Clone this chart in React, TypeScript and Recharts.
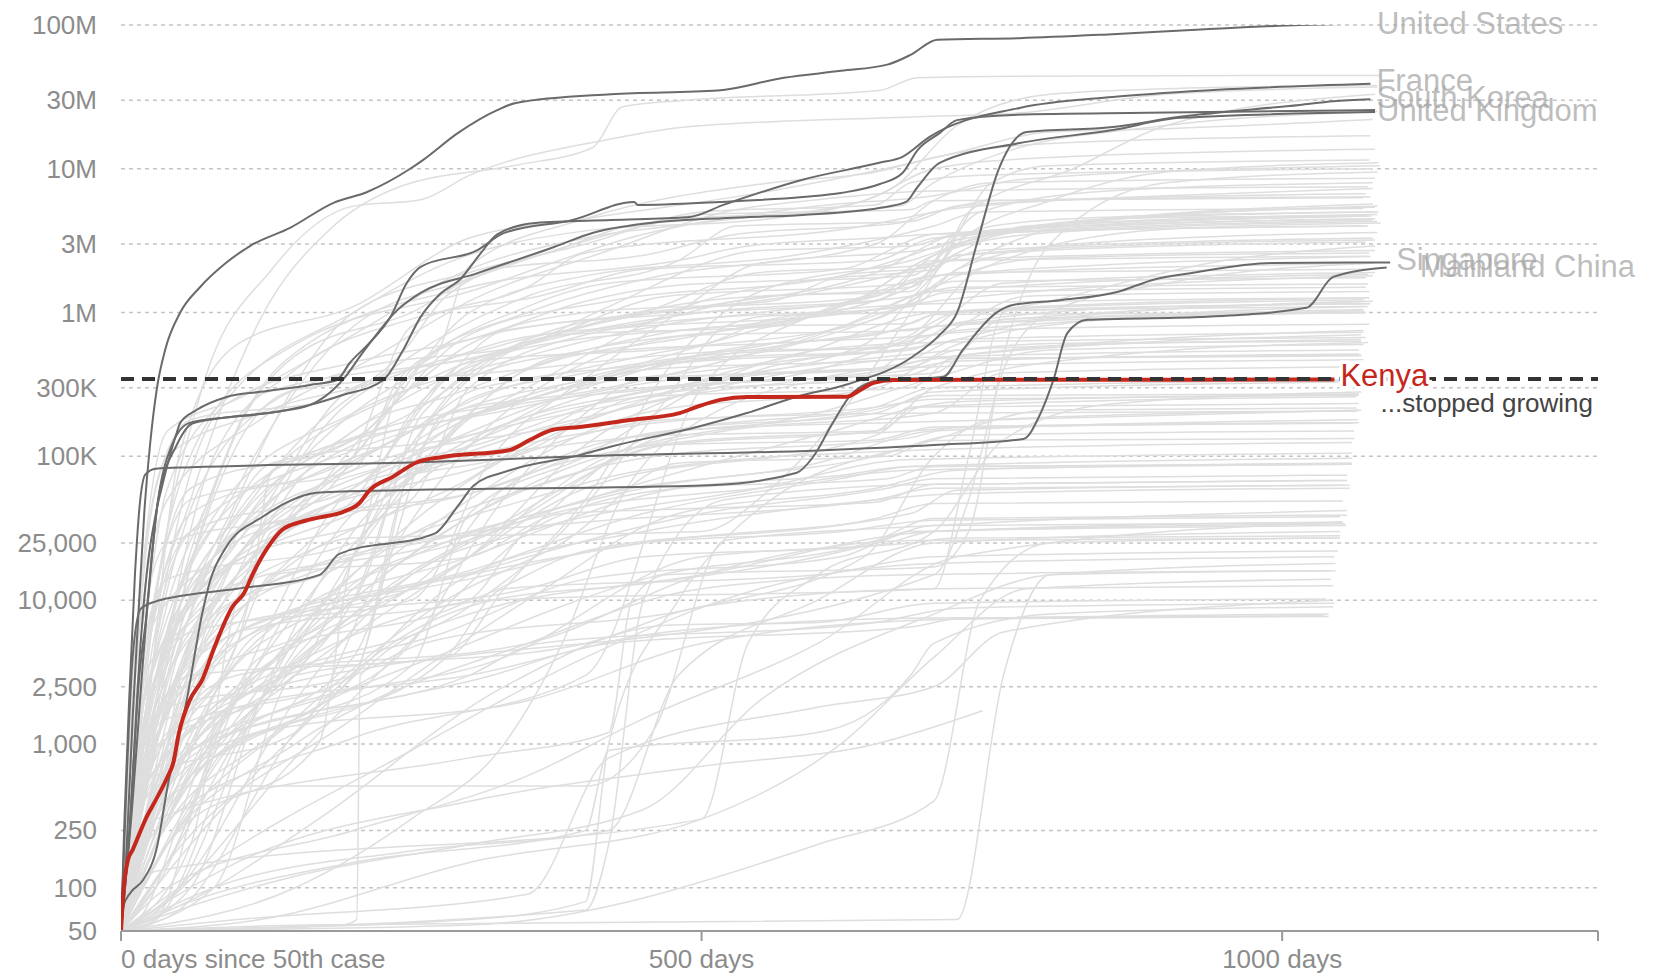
import React from "react";
import { LineChart, Line, XAxis, YAxis, CartesianGrid, ReferenceLine, ReferenceDot } from "recharts";

type Pair = [number, number];

const xTicks = [0, 500, 1000, 1272];
const yTicks = [50, 100, 250, 1000, 2500, 10000, 25000, 100000, 300000, 1000000, 3000000, 10000000, 30000000, 100000000];
const kenyaPlateau = 345000;

// highlighted countries: [days since 50th case, cumulative cases]
const unitedStates: Pair[] = [[0,50],[5,200],[10,1500],[15,8000],[20,40000],[25,120000],[31,300000],[38,550000],[51,1000000],[68,1500000],[90,2200000],[111,2900000],[146,3900000],[183,5800000],[212,6900000],[249,10000000],[260,11500000],[290,17700000],[324,25600000],[340,28700000],[422,33000000],[514,35000000],[571,43000000],[620,48000000],[660,53000000],[680,62000000],[703,79000000],[774,81000000],[850,86000000],[930,93000000],[1015,100000000],[1080,103000000]];
const france: Pair[] = [[0,50],[8,300],[15,2500],[22,8000],[32,50000],[48,120000],[62,170000],[134,204000],[163,228000],[191,267000],[226,340000],[243,550000],[258,930000],[275,1350000],[292,1700000],[310,2600000],[324,3500000],[357,4200000],[422,4400000],[488,4600000],[521,5700000],[587,8400000],[653,11000000],[673,12100000],[696,16600000],[774,26500000],[854,31600000],[941,35300000],[1076,39000000]];
const southKorea: Pair[] = [[0,50],[5,600],[10,4000],[17,8700],[30,9800],[46,10500],[100,12000],[171,15000],[188,21000],[270,29000],[290,45000],[304,63000],[335,80000],[395,102000],[424,118000],[496,160000],[539,200000],[582,260000],[625,316000],[682,495000],[705,700000],[720,1000000],[737,3000000],[756,10000000],[780,18000000],[854,19500000],[912,23000000],[1015,27800000],[1044,29500000],[1076,30500000]];
const unitedKingdom: Pair[] = [[0,50],[8,300],[15,3000],[22,15000],[30,40000],[36,65000],[48,146000],[51,171000],[65,210000],[91,259000],[120,281000],[163,314000],[186,340000],[197,446000],[214,615000],[232,930000],[246,1600000],[258,2080000],[307,2720000],[330,3580000],[389,4410000],[442,5880000],[445,5600000],[515,5880000],[587,6370000],[620,6790000],[653,7800000],[673,9350000],[686,13500000],[705,17700000],[720,21800000],[768,23700000],[884,24500000],[1080,25600000]];
const otherEurope: Pair[] = [[0,50],[10,400],[18,3000],[25,15000],[32,50000],[42,110000],[59,171000],[94,188000],[134,204000],[163,228000],[174,255000],[191,340000],[208,524000],[238,1040000],[258,1370000],[307,1880000],[373,2860000],[406,3580000],[456,4200000],[521,4550000],[587,4780000],[653,5340000],[676,5880000],[686,7470000],[705,11000000],[774,15100000],[854,18600000],[912,22600000],[1080,24800000]];
const singapore: Pair[] = [[0,50],[2,74],[8,92],[19,113],[31,192],[40,500],[57,2100],[70,8100],[77,13800],[90,23000],[122,38000],[171,56000],[238,58000],[507,63000],[582,77000],[596,99000],[613,171000],[630,276000],[654,340000],[708,357000],[725,550000],[754,1000000],[768,1130000],[809,1220000],[858,1390000],[890,1700000],[921,1880000],[992,2210000],[1093,2230000]];
const mainlandChina: Pair[] = [[0,50],[3,300],[7,2000],[12,15000],[16,45000],[21,75000],[30,82000],[60,84000],[258,91000],[395,100000],[600,110000],[700,120000],[777,132000],[792,200000],[803,340000],[815,720000],[832,890000],[929,930000],[1021,1080000],[1044,1770000],[1090,2060000]];
const kenya: Pair[] = [[0,50],[2,92],[6,156],[10,183],[22,310],[30,408],[40,589],[45,738],[50,1200],[59,2000],[70,2800],[80,4600],[96,9000],[106,11200],[114,15500],[126,23000],[139,31000],[155,35000],[170,37500],[191,41000],[205,47000],[214,58000],[234,72000],[255,91000],[277,99000],[335,111000],[352,130000],[372,153000],[395,160000],[438,179000],[481,200000],[496,221000],[516,247000],[539,259000],[625,260000],[634,281000],[648,324000],[665,340000],[809,341000],[1045,342000]];

// every other country, drawn in light grey
const background: Pair[][] = [
  [[0,50],[15,2e3],[40,6e4],[100,3e5],[200,1e6],[280,2.2e6],[400,3.7e6],[560,4.5e6],[660,7e6],[720,2e7],[800,3.3e7],[900,3.6e7],[1082,3.8e7]],
  [[0,50],[20,3e3],[60,5e4],[120,9e5],[180,3.8e6],[240,7.5e6],[340,1.06e7],[406,1.4e7],[432,2.7e7],[488,3e7],[653,3.5e7],[686,4.3e7],[774,4.4e7],[1085,4.46e7]],
  [[0,50],[25,5e3],[70,3e5],[130,2e6],[200,5.5e6],[258,6.1e6],[300,9e6],[420,1.6e7],[488,1.96e7],[686,2.3e7],[774,2.45e7],[900,3.3e7],[1082,3.7e7]],
  [[0,50],[30,400],[60,5e3],[200,6e4],[350,3e5],[500,1.2e6],[600,1.7e6],[700,2e6],[730,5e6],[820,1e7],[900,2e7],[1080,3.3e7]],
  [[0,50],[10,1.5e3],[30,6e4],[60,1.8e5],[180,2.5e5],[240,5e5],[280,1.3e6],[380,2.8e6],[450,4.2e6],[670,5.5e6],[700,8e6],[760,1.3e7],[900,2e7],[1082,2.5e7]],
  [[0,50],[20,1e3],[50,1e5],[100,6e5],[200,1.1e6],[300,3.3e6],[400,4.5e6],[550,6.8e6],[670,1.05e7],[720,1.3e7],[800,1.8e7],[900,1.9e7],[1078,2.2e7]],
  [[0,50],[10,3e3],[40,1e5],[120,2e5],[270,5e5],[300,2.1e6],[400,4.5e6],[560,8e6],[650,9.5e6],[700,1.2e7],[800,1.5e7],[1076,1.7e7]],
  [[0,50],[10,2e3],[40,1.5e5],[100,2.5e5],[200,7e5],[300,2e6],[400,3.3e6],[510,4.3e6],[640,6e6],[700,1e7],[800,1.2e7],[1080,1.37e7]],
  [[0,50],[30,250],[200,1.1e3],[400,3e3],[500,3e5],[600,1e6],[700,2e6],[750,8e6],[800,1.05e7],[1075,1.15e7]],
  [[0,50],[20,3e3],[60,7e3],[150,2e4],[200,2.7e4],[500,3e4],[560,6e4],[620,2e5],[680,1e6],[720,3e6],[800,6e6],[900,9.5e6],[1083,1.1e7]],
  [[0,50],[40,3e3],[100,5e4],[200,1e6],[300,1.9e6],[400,3e6],[500,5e6],[650,5.6e6],[680,8e6],[740,9e6],[1078,1e7]],
  [[0,50],[15,1.5e3],[60,4e4],[200,1e5],[250,4e5],[350,1e6],[450,1.7e6],[650,3e6],[700,6e6],[750,8e6],[1080,8.6e6]],
  [[0,50],[10,2e3],[40,5e4],[120,1.8e5],[220,5e5],[300,1.2e6],[420,2.7e6],[520,5e6],[600,6.1e6],[700,7e6],[1074,7.5e6]],
  [[0,50],[30,2e3],[90,1e5],[150,5e5],[250,1e6],[320,2e6],[450,2.5e6],[530,3.5e6],[670,4.2e6],[700,5e6],[760,5.7e6],[900,6.5e6],[1078,7.3e6]],
  [[0,50],[30,3e3],[120,6e4],[250,5e5],[350,1.3e6],[480,2.3e6],[530,4e6],[680,4.3e6],[720,5.5e6],[800,6e6],[1072,6.7e6]],
  [[0,50],[30,3e3],[100,2e4],[200,1e5],[250,8e5],[350,1.5e6],[400,2.6e6],[640,4e6],[700,5e6],[750,6e6],[1076,6.4e6]],
  [[0,50],[30,3e3],[100,6e4],[200,8e5],[300,1.7e6],[450,4e6],[500,4.8e6],[680,5.2e6],[700,6e6],[1070,6.3e6]],
  [[0,50],[30,5e3],[90,2.3e5],[200,4.5e5],[300,6.5e5],[400,1.2e6],[480,1.55e6],[680,1.8e6],[720,3e6],[850,4.5e6],[1080,5e6]],
  [[0,50],[20,1.5e3],[60,6e3],[250,1e4],[320,1e5],[400,3.5e5],[480,1e6],[550,2.2e6],[700,2.8e6],[750,4e6],[850,4.6e6],[1083,5e6]],
  [[0,50],[20,1e3],[60,3e3],[280,4e3],[330,1.2e4],[400,5e4],[480,5e5],[550,1.4e6],[680,2.3e6],[750,3.5e6],[900,4.6e6],[1077,4.7e6]],
  [[0,50],[20,3e3],[60,6e4],[200,1.3e5],[300,7e5],[420,1.2e6],[620,1.8e6],[680,2.5e6],[720,3.2e6],[850,4e6],[1080,4.5e6]],
  [[0,50],[30,3e3],[120,4e4],[200,3e5],[350,6e5],[420,1.1e6],[550,2.7e6],[680,2.9e6],[720,3.5e6],[1072,4e6]],
  [[0,50],[30,1.5e3],[100,1.5e5],[160,6e5],[300,1.5e6],[480,2.3e6],[540,2.9e6],[650,3.3e6],[700,3.5e6],[1074,4e6]],
  [[0,50],[30,3e3],[120,2e4],[250,3e5],[300,6e5],[400,1e6],[560,1.2e6],[620,1.8e6],[700,2.1e6],[740,2.7e6],[1078,3.3e6]],
  [[0,50],[10,1e3],[60,1e4],[250,7e4],[310,2e5],[500,3.3e5],[640,6e5],[690,1.5e6],[720,2.5e6],[1072,3.1e6]],
  [[0,50],[20,2e3],[100,5e4],[250,2e5],[350,6.5e5],[450,1e6],[650,1.3e6],[700,2.3e6],[1080,2.7e6]],
  [[0,50],[20,1.5e3],[80,1.5e4],[250,5e4],[300,3e5],[400,7e5],[550,1e6],[650,1.3e6],[700,1.8e6],[1076,2.45e6]],
  [[0,50],[20,200],[50,1e3],[160,4e3],[320,1e4],[700,1.2e4],[730,1e5],[760,1e6],[800,1.2e6],[950,2.3e6],[1080,2.9e6]],
  [[0,50],[10,700],[40,1.5e3],[700,1.5e4],[730,5e4],[760,4e5],[800,1e6],[900,1.6e6],[1076,2.2e6]],
  [[0,50],[30,5e3],[100,1.5e5],[200,4e5],[350,6e5],[470,1.3e6],[680,1.6e6],[720,1.9e6],[1072,2e6]],
  [[0,50],[40,2e3],[200,1e4],[260,2e5],[380,7e5],[560,8e5],[640,1.3e6],[700,1.8e6],[1078,2.2e6]],
  [[0,50],[40,1.2e3],[200,3e3],[240,5e4],[300,2.5e5],[400,3.8e5],[620,8e5],[700,1.4e6],[1074,1.85e6]],
  [[0,50],[40,1.5e3],[120,5e4],[200,1.3e5],[350,2.5e5],[500,5e5],[680,6e5],[720,8.5e5],[900,1.1e6],[1076,1.15e6]],
  [[0,50],[20,2e3],[60,3e4],[200,1.1e5],[350,2.5e5],[480,4.7e5],[670,5.5e5],[700,8e5],[1070,1.05e6]],
  [[0,50],[20,500],[100,2e3],[300,9e3],[380,3e4],[470,2.5e5],[520,8e5],[560,9.5e5],[1074,1.1e6]],
  [[0,50],[30,1e3],[110,1e4],[130,8e4],[330,2.2e5],[470,5e5],[600,9.5e5],[680,1.15e6],[710,1.38e6],[1072,1.5e6]],
  [[0,50],[60,200],[100,1e4],[200,1.5e5],[280,2.6e5],[420,6e5],[520,8e5],[680,8.4e5],[700,9.7e5],[1068,1e6]],
  [[0,50],[20,1e3],[100,8e3],[200,5e4],[300,4.5e5],[500,6e5],[560,9e5],[700,1.15e6],[1075,1.27e6]],
  [[0,50],[30,450],[120,2e3],[200,2e4],[300,2e5],[380,5e5],[650,7e5],[710,1e6],[1070,1.23e6]],
  [[0,50],[30,1.5e3],[100,1.2e5],[150,2.9e5],[300,3.7e5],[550,5.5e5],[650,5.6e5],[700,7e5],[800,7.8e5],[1075,8.3e5]],
  [[0,50],[30,600],[150,1.2e3],[230,2e4],[330,2e5],[500,7e5],[680,7.5e5],[720,1e6],[1072,1.15e6]],
  [[0,50],[40,150],[120,5e3],[200,6e4],[320,1.3e5],[450,2.8e5],[660,4e5],[700,4.8e5],[1068,5e5]],
  [[0,50],[20,150],[100,1.5e3],[200,1.3e4],[320,3e4],[480,1.5e5],[650,2.2e5],[700,3e5],[1070,3.4e5]],
  [[0,50],[15,60],[70,800],[200,1e4],[300,3.8e4],[460,1e5],[680,1.35e5],[720,1.6e5],[1060,1.7e5]],
  [[0,50],[30,1e3],[100,3e4],[300,5.5e4],[380,9e4],[500,1.3e5],[680,1.5e5],[720,1.58e5],[1066,1.71e5]],
  [[0,50],[40,200],[150,1.5e3],[280,1e4],[380,2.5e4],[480,9e4],[660,1e5],[700,1.29e5],[1062,1.33e5]],
  [[0,50],[40,150],[120,2e3],[280,2e4],[330,6e4],[460,1.4e5],[650,1.5e5],[690,2.2e5],[1066,2.33e5]],
  [[0,50],[50,100],[120,2e3],[180,1.1e4],[400,8e4],[470,1.2e5],[650,1.3e5],[700,1.6e5],[1062,1.71e5]],
  [[0,50],[30,400],[100,5e3],[300,2e4],[480,6e4],[620,7.4e4],[680,8.5e4],[1060,8.8e4]],
  [[0,50],[20,130],[100,5e3],[130,1.5e4],[300,2e4],[380,4e4],[480,4.3e4],[650,4.8e4],[700,6.4e4],[1052,6.8e4]],
  [[0,50],[30,300],[100,2e3],[280,6e3],[400,1.4e4],[620,2e4],[680,3e4],[1055,3.3e4]],
  [[0,50],[20,200],[60,600],[280,4e3],[330,1.2e4],[600,1.5e4],[700,2e4],[1048,2.2e4]],
  [[0,50],[20,300],[60,900],[300,3e3],[360,5e3],[650,7e3],[720,8.8e3],[1045,9.5e3]],
  [[0,50],[30,60],[80,800],[320,3e3],[420,5e3],[680,6.5e3],[720,7.4e3],[1040,7.7e3]],
  [[0,50],[30,200],[100,1.8e3],[300,3e3],[470,6e3],[690,7.5e3],[1036,7.8e3]],
  [[0,50],[70,90],[170,300],[330,2.5e3],[470,6.7e3],[600,7e3],[700,9.5e3],[1038,1.02e4]],
  [[0,50],[300,60],[400,80],[420,1e3],[480,1e4],[560,5e4],[700,1.3e5],[800,2.1e5],[1064,2.17e5]],
  [[0,50],[150,100],[250,300],[330,1e3],[380,5e3],[430,5e4],[500,1.8e5],[620,3.5e5],[700,3.8e5],[760,9e5],[1072,1e6]],
  [[0,50],[30,300],[300,800],[420,1.2e3],[440,1e4],[470,1.5e4],[700,1.7e4],[730,3e4],[760,5e5],[800,3e6],[900,8e6],[1082,9.5e6]],
  [[0,50],[30,130],[500,300],[540,5e3],[600,1.5e4],[700,3e4],[760,1.3e5],[850,2.3e5],[1068,2.8e5]],
  [[0,50],[400,70],[420,200],[450,1e4],[520,5e4],[700,6.4e4],[1056,6.8e4]],
  [[0,50],[160,55],[720,60],[760,3e3],[800,1.5e4],[1046,1.6e4]],
  [[0,50],[60,80],[200,150],[400,250],[420,900],[600,1.2e3],[680,3e3],[700,5e3],[800,8e3],[1044,9e3]],
  [[0,50],[100,150],[300,400],[500,700],[650,1e3],[742,1.7e3]],
  [[0,50],[30,300],[60,509],[400,509],[460,1.3e3],[520,2.6e4],[700,3.3e4],[1056,4.2e4]],
  [[0,50],[30,600],[100,5e3],[130,3e4],[300,8e4],[470,1.8e5],[700,2e5],[1064,2.06e5]],
  [[0,50],[20,500],[80,2e4],[150,3.6e4],[300,5.5e4],[470,1.5e5],[700,1.75e5],[1068,2.1e5]],
  [[0,50],[20,1e3],[100,1.5e4],[250,7.5e4],[450,1.4e5],[660,2.2e5],[700,2.65e5],[1066,2.71e5]],
  [[0,50],[30,500],[100,2e4],[250,1e5],[450,2.5e5],[550,3.7e5],[700,4.2e5],[1070,4.7e5]],
  [[0,50],[40,700],[120,2e4],[250,1.5e5],[450,4e5],[550,5.6e5],[700,8e5],[1078,1.2e6]],
  [[0,50],[40,500],[200,3e3],[260,1.5e5],[380,7e5],[650,1.05e6],[720,1.65e6],[1072,1.75e6]],
  [[0,50],[40,600],[200,4e3],[280,2e5],[400,2.8e5],[580,6.2e5],[700,1.2e6],[1078,1.8e6]],
  [[0,50],[20,800],[150,3e3],[250,1.2e5],[350,2.5e5],[580,5e5],[700,1e6],[1075,1.27e6]],
  [[0,50],[20,2e3],[100,3e4],[250,1.5e5],[310,3e5],[500,4.6e5],[680,5.5e5],[720,7.5e5],[1070,1.03e6]],
  [[0,50],[30,60],[100,1e3],[200,8e3],[330,3.5e4],[470,1.2e5],[650,1.5e5],[680,2.2e5],[1064,2.6e5]],
  [[0,50],[30,70],[150,800],[220,3e3],[350,3e4],[470,1.5e5],[650,2e5],[700,2.8e5],[1068,3.3e5]],
  [[0,50],[30,500],[100,6e3],[300,1e4],[400,2.2e4],[650,3.7e4],[700,4.7e4],[1052,4.9e4]],
  [[0,50],[40,700],[100,7e3],[350,1.2e4],[450,2e4],[650,2.4e4],[700,3e4],[1054,3.4e4]],
  [[0,50],[40,200],[120,1.5e3],[330,4e3],[500,2e4],[680,2.5e4],[720,2.7e4],[1050,2.8e4]],
  [[0,50],[30,200],[120,1e3],[300,5e3],[450,1.4e4],[650,2.6e4],[700,3.7e4],[1056,3.9e4]],
  [[0,50],[40,300],[120,1.2e3],[350,2e3],[500,5e3],[700,7.3e3],[1040,8e3]],
  [[0,50],[80,100],[150,3e3],[400,5e3],[500,9e3],[700,1.2e4],[1044,1.26e4]],
  [[0,50],[30,800],[100,3e3],[350,5e3],[500,1.5e4],[680,2.6e4],[1050,2.7e4]],
  [[0,50],[10,1e3],[40,1.8e3],[200,3e3],[260,5e3],[500,9e3],[640,2e4],[700,1e5],[750,1.8e5],[1066,2.08e5]],
  [[0,50],[20,500],[300,2e4],[400,6e4],[650,1.4e5],[700,3e5],[850,5e5],[1074,6.2e5]],
  [[0,50],[60,700],[250,5e3],[320,4e4],[400,2e5],[450,3.5e5],[650,4e5],[700,8e5],[1072,1e6]],
  [[0,50],[40,300],[150,8e3],[250,6e4],[350,2e5],[450,4e5],[680,4.8e5],[720,6.5e5],[1070,7.3e5]],
  [[0,50],[60,100],[120,2e3],[200,3e4],[300,1.2e5],[460,2.7e5],[680,3.7e5],[720,4.8e5],[1068,5.07e5]],
  [[0,50],[40,200],[170,1e3],[200,2e4],[300,1.3e5],[470,3e5],[700,5.3e5],[800,6.1e5],[1068,6.33e5]],
  [[0,50],[50,700],[250,3.5e3],[300,4e4],[400,1e5],[500,3e5],[600,5.5e5],[700,6.2e5],[1072,6.7e5]],
  [[0,50],[20,1.5e3],[80,6e4],[120,2.7e5],[300,4.8e5],[420,8e5],[500,1e6],[680,1.3e6],[720,1.5e6],[1074,1.58e6]],
  [[0,50],[20,500],[80,2e4],[130,9e4],[300,1.4e5],[420,2.8e5],[670,3.9e5],[720,4.6e5],[1066,5.16e5]],
  [[0,50],[20,400],[80,1.2e4],[150,4e4],[300,1e5],[450,1.67e5],[650,2.2e5],[700,2.5e5],[1066,2.66e5]],
  [[0,50],[20,800],[80,6e3],[200,2e4],[350,5e4],[450,8e4],[680,1.1e5],[1060,1.25e5]],
  [[0,50],[30,300],[100,6e3],[300,1.6e4],[450,4e4],[620,7e4],[680,8.5e4],[1060,9.7e4]],
  [[0,50],[30,500],[100,1e4],[280,2.8e4],[400,3.5e4],[650,5e4],[700,6e4],[1054,6.3e4]],
  [[0,50],[50,100],[150,2e3],[250,1.5e4],[350,3e4],[550,6e4],[680,9.5e4],[1060,1.05e5]],
  [[0,50],[30,1e3],[100,1.3e4],[250,2.2e4],[400,4.5e4],[550,6e4],[680,8e4],[1058,8.8e4]],
  [[0,50],[30,1.5e3],[100,6e3],[300,1.4e4],[450,2.5e4],[620,3e4],[700,3.6e4],[1050,3.8e4]],
  [[0,50],[30,100],[120,4e3],[300,1e4],[350,3e4],[480,6e4],[660,7e4],[700,8.5e4],[1056,8.8e4]],
  [[0,50],[30,300],[120,5e3],[320,1.7e4],[500,4e4],[660,6e4],[700,7e4],[1056,7.4e4]],
  [[0,50],[50,70],[150,1.2e3],[320,1e4],[450,1.3e4],[650,2.5e4],[700,3.3e4],[1050,3.45e4]],
  [[0,50],[60,1e3],[120,6e3],[300,1.5e4],[450,2.5e4],[680,4e4],[720,5.8e4],[1058,6.3e4]],
  [[0,50],[190,55],[203,60],[206,3e3],[300,8e3],[500,1.5e4],[700,3e4],[1052,3.5e4]],
  [[0,50],[100,60],[350,90],[420,800],[600,1.8e3],[700,2.5e3],[760,6e3],[1042,1e4]],
  [[0,50],[300,55],[600,200],[700,400],[740,1e4],[800,2.5e4],[1048,2.7e4]],
  [[0,50],[20,500],[200,1e4],[250,1e5],[400,3.5e5],[580,6e5],[680,1.2e6],[720,2e6],[850,4.5e6],[1080,5.4e6]],
  [[0,50],[10,1e3],[60,3e4],[200,6e4],[280,3.5e5],[330,7.5e5],[500,1e6],[650,1.2e6],[700,2.5e6],[800,4e6],[1082,5.5e6]],
  [[0,50],[10,1.5e3],[40,1.4e4],[200,2.5e4],[250,1.2e5],[300,3.5e5],[400,5.5e5],[620,1.1e6],[700,2.5e6],[800,4e6],[1078,5.7e6]],
  [[0,50],[20,4e3],[60,5e4],[200,8e4],[240,3.5e5],[300,6.5e5],[500,1.1e6],[650,1.9e6],[720,3.5e6],[800,4e6],[1074,4.7e6]],
  [[0,50],[20,1e3],[80,8e3],[200,2e4],[240,3e5],[350,1.1e6],[420,1.6e6],[620,2e6],[700,3.5e6],[1076,4.5e6]],
  [[0,50],[20,600],[80,1e5],[150,4e5],[250,9e5],[360,1.3e6],[450,2e6],[650,2.3e6],[700,3.3e6],[1078,4.4e6]],
  [[0,50],[10,2e3],[40,2.5e4],[200,4.5e4],[250,2e5],[320,5e5],[620,1.1e6],[700,2.5e6],[800,3.6e6],[1082,4.3e6]],
  [[0,50],[20,5e3],[80,2e4],[200,2e5],[320,6e5],[450,8.5e5],[560,1.3e6],[680,1.4e6],[720,3.5e6],[1074,4.7e6]],
  [[0,50],[30,2e3],[100,2e4],[200,1e5],[300,1e6],[400,1.8e6],[580,2.5e6],[700,4e6],[740,5e6],[1070,5.3e6]],
  [[0,50],[30,600],[100,1.5e4],[200,2.5e5],[330,6e5],[450,1e6],[550,1.9e6],[680,2.1e6],[720,2.3e6],[1074,2.46e6]],
  [[0,50],[30,400],[100,2e4],[200,8e4],[400,1.8e5],[530,4e5],[700,6e5],[800,9e5],[1072,1.2e6]],
  [[0,50],[20,1.5e3],[100,2.5e4],[200,1.2e5],[320,2e5],[500,3.6e5],[680,4.2e5],[720,5.5e5],[1068,6.5e5]],
  [[0,50],[30,200],[100,2e3],[200,4e4],[330,1.3e5],[450,2.3e5],[600,4.1e5],[700,4.9e5],[1066,5.5e5]],
  [[0,50],[15,300],[100,1.5e4],[200,5.5e4],[350,1.1e5],[450,2.6e5],[680,3e5],[720,5e5],[1068,7e5]],
  [[0,50],[50,70],[150,120],[300,200],[450,350],[550,2e3],[700,8e3],[800,1.5e4],[1046,1.8e4]],
  [[0,50],[80,100],[250,180],[420,250],[480,3e3],[600,1e4],[700,2.5e4],[1050,3e4]],
  [[0,50],[40,100],[200,250],[350,600],[450,1.5e3],[600,5e3],[720,2e4],[1052,3.5e4]],
  [[0,50],[120,60],[300,150],[500,300],[620,1e3],[700,4e3],[780,1.2e4],[1042,1.4e4]],
  [[0,50],[20,1e3],[80,2e4],[200,1.5e5],[350,6e5],[500,1.2e6],[680,1.5e6],[720,2.5e6],[900,3e6],[1080,3.2e6]],
  [[0,50],[25,2e3],[100,4e4],[250,3e5],[400,8e5],[600,1.4e6],[700,2.2e6],[780,4e6],[1082,4.8e6]],
  [[0,50],[15,800],[60,1e4],[250,8e4],[350,4e5],[500,7e5],[680,1.5e6],[740,5e6],[850,7e6],[1078,8e6]],
  [[0,50],[30,1e3],[120,2e4],[280,2e5],[450,5e5],[650,9e5],[720,1.8e6],[800,2.4e6],[1075,2.6e6]],
  [[0,50],[20,600],[100,8e3],[300,7e4],[420,2.5e5],[600,4e5],[700,8e5],[760,1.6e6],[1080,1.9e6]],
  [[0,50],[40,500],[150,5e3],[300,5e4],[450,2e5],[650,3e5],[720,6e5],[850,9e5],[1070,1.1e6]],
  [[0,50],[30,2e3],[100,3e4],[250,1e5],[400,3e5],[550,6e5],[700,7e5],[780,1.3e6],[1075,1.4e6]],
  [[0,50],[20,400],[150,3e3],[300,2e4],[420,1e5],[600,2e5],[700,3.5e5],[800,5.5e5],[1070,6e5]],
  [[0,50],[50,300],[150,4e3],[280,3e4],[380,8e4],[520,1.5e5],[700,2e5],[760,3.8e5],[1068,4.2e5]],
  [[0,50],[30,200],[120,2e3],[250,1.5e4],[400,5e4],[600,9e4],[700,1.5e5],[1065,1.8e5]],
  [[0,50],[40,150],[200,1.5e3],[350,1e4],[480,4e4],[650,6e4],[720,8e4],[1060,9e4]],
  [[0,50],[25,700],[100,1e4],[300,3e4],[450,6e4],[650,1e5],[720,1.4e5],[1062,1.5e5]],
  [[0,50],[20,1e3],[90,5e4],[200,2e5],[350,5e5],[500,9e5],[680,1.1e6],[720,2e6],[820,3e6],[1082,3.6e6]],
  [[0,50],[15,500],[80,4e3],[300,2e4],[400,1.2e5],[550,4e5],[680,7e5],[740,2e6],[900,3.8e6],[1085,4.2e6]],
  [[0,50],[30,300],[120,3e3],[260,4e4],[420,2e5],[600,3.5e5],[720,5e5],[1070,7.5e5]],
  [[0,50],[20,3e3],[70,1.5e5],[150,6e5],[300,1.4e6],[450,3.5e6],[600,5.5e6],[700,6.5e6],[780,8.5e6],[1084,1.05e7]],
  [[0,50],[60,200],[180,2e3],[300,1.5e4],[450,3e4],[600,4.5e4],[720,5.5e4],[1058,6e4]],
  [[0,50],[80,150],[250,900],[400,4e3],[550,1.2e4],[700,1.8e4],[1045,2e4]],
  [[0,50],[30,150],[150,1e3],[350,5e3],[500,1.2e4],[680,1.5e4],[1040,1.6e4]],
  [[0,50],[20,300],[90,3e3],[250,2e4],[400,5e4],[600,1.4e5],[720,2.4e5],[1066,2.7e5]],
];

const FONT = '"Liberation Sans", Arial, Helvetica, sans-serif';

const toPoints = (pairs: Pair[]) => pairs.map(([day, cases]) => ({ day, cases }));
const kenyaLast = kenya[kenya.length - 1];

const withCommas = (v: number) => String(v).replace(/\B(?=(\d{3})+(?!\d))/g, ",");
const formatCases = (v: number) => {
  if (v >= 1e6) return `${v / 1e6}M`;
  if (v >= 1e5) return `${v / 1e3}K`;
  return withCommas(v);
};

const YTick = (props: any) => (
  <text x={89} y={props.y} dy={9} textAnchor="end" fill="#8c8c8c" fontSize={26} fontFamily={FONT}>
    {formatCases(props.payload.value)}
  </text>
);

const XTick = (props: any) => {
  const v = props.payload.value;
  if (v === 1272) return <g />;
  const text = v === 0 ? "0 days since 50th case" : `${v} days`;
  return (
    <text x={props.x} y={props.y} dy={25} textAnchor={v === 0 ? "start" : "middle"} fill="#8c8c8c" fontSize={26} fontFamily={FONT}>
      {text}
    </text>
  );
};

const highlighted = [
  { name: "United States", points: unitedStates, dx: 2, dy: 0 },
  { name: "France", points: france, dx: 6, dy: -4 },
  { name: "South Korea", points: southKorea, dx: 6, dy: -2 },
  { name: "United Kingdom", points: unitedKingdom, dx: 2, dy: 0 },
  { name: "", points: otherEurope, dx: 0, dy: 0 },
  { name: "Singapore", points: singapore, dx: 6, dy: -3 },
  { name: "Mainland China", points: mainlandChina, dx: 33, dy: -1 },
];

const endLabel = (name: string, count: number, dx: number, dy: number) =>
  (props: any) => {
    if (!name || props.index !== count - 1) return <g />;
    return (
      <text x={props.x + dx} y={props.y + dy} dy={11} fill="#a8a8a8" fillOpacity={0.75} fontSize={31} fontFamily={FONT}>
        {name}
      </text>
    );
  };

const KenyaLabel = (props: any) => {
  const vb = props.viewBox || { x: 0, y: 0, width: 0, height: 0 };
  const cx = vb.x + (vb.width || 0) / 2;
  const cy = vb.y + (vb.height || 0) / 2;
  return (
    <text
      x={cx + 6}
      y={cy - 5}
      dy={11}
      fill="#c4281d"
      fontSize={31}
      fontFamily={FONT}
      stroke="#fff"
      strokeWidth={7}
      paintOrder="stroke"
    >
      Kenya
    </text>
  );
};

const StoppedLabel = (props: any) => {
  const vb = props.viewBox || { x: 113, y: 371, width: 1477 };
  return (
    <text x={vb.x + vb.width - 5} y={vb.y + 33} textAnchor="end" fill="#444" fontSize={26} fontFamily={FONT}>
      ...stopped growing
    </text>
  );
};

export default function App() {
  return (
    <div style={{ width: 1649, height: 966 }}>
      <LineChart width={1649} height={966} margin={{ top: 17, right: 59, left: 0, bottom: 0 }}>
        <CartesianGrid vertical={false} stroke="#c4c4c4" strokeDasharray="4 4" strokeWidth={1.5} />
        <XAxis
          type="number"
          dataKey="day"
          domain={[0, 1272]}
          ticks={xTicks}
          interval={0}
          height={43}
          tickSize={10}
          axisLine={{ stroke: "#9a9a9a", strokeWidth: 2 }}
          tickLine={{ stroke: "#9a9a9a", strokeWidth: 2 }}
          tick={<XTick />}
          allowDataOverflow
        />
        <YAxis
          type="number"
          scale="log"
          domain={[50, 100000000]}
          ticks={yTicks}
          interval={0}
          width={113}
          axisLine={false}
          tickLine={false}
          tick={<YTick />}
          allowDataOverflow
        />
        {background.map((pts, i) => (
          <Line
            key={"bg" + i}
            data={toPoints(pts)}
            dataKey="cases"
            type="monotone"
            stroke="#dedede"
            strokeWidth={1.5}
            dot={false}
            activeDot={false}
            isAnimationActive={false}
          />
        ))}
        {highlighted.map((h, i) => (
          <Line
            key={"hl" + i}
            data={toPoints(h.points)}
            dataKey="cases"
            type="monotone"
            stroke="#6a6a6a"
            strokeWidth={2}
            dot={false}
            activeDot={false}
            isAnimationActive={false}
            label={endLabel(h.name, h.points.length, h.dx, h.dy)}
          />
        ))}
        <Line
          data={toPoints(kenya)}
          dataKey="cases"
          type="monotone"
          stroke="#c4281d"
          strokeWidth={4}
          dot={false}
          activeDot={false}
          isAnimationActive={false}
        />
        <ReferenceLine y={kenyaPlateau} stroke="#333" strokeWidth={4} strokeDasharray="13 8" label={<StoppedLabel />} />
        <ReferenceDot x={kenyaLast[0]} y={kenyaLast[1]} r={1} fill="none" stroke="none" label={<KenyaLabel />} />
      </LineChart>
    </div>
  );
}
